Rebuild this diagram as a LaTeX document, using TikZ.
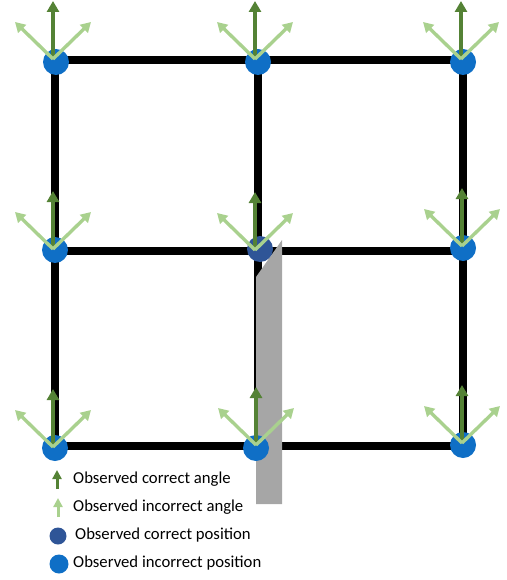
\documentclass[tikz,border=0pt]{standalone}
\usepackage{fontspec}
\setmainfont{Carlito}
\usetikzlibrary{arrows.meta}
\definecolor{dkgreen}{HTML}{548235}
\definecolor{ltgreen}{HTML}{A9D18E}
\definecolor{posblue}{HTML}{0F6FC6}
\definecolor{okblue}{HTML}{2F5597}
\definecolor{greyfill}{HTML}{A6A6A6}
\tikzset{
  gridline/.style={line width=8pt, line cap=rect, black},
  badpos/.style={circle, fill=posblue, minimum size=26pt, inner sep=0pt},
  goodpos/.style={circle, fill=okblue, minimum size=26pt, inner sep=0pt},
  goodang/.style={draw=dkgreen, line width=3.6pt, -{Triangle[width=12pt,length=11pt]}},
  badang/.style={draw=ltgreen, line width=3.4pt, -{Triangle[width=11pt,length=10pt]}},
  legtext/.style={anchor=west, inner sep=0pt, font=\fontsize{16.7}{20}\selectfont}
}
\begin{document}
\begin{tikzpicture}[x=1pt,y=-1pt]
\useasboundingbox (0,0) rectangle (506,580);
% grid intersections
\coordinate (g11) at (55,60);  \coordinate (g12) at (258,60);  \coordinate (g13) at (463,60);
\coordinate (g21) at (55,251); \coordinate (g22) at (258,251); \coordinate (g23) at (463,251);
\coordinate (g31) at (55,446); \coordinate (g32) at (258,446); \coordinate (g33) at (463,446);
\draw[gridline] (g11) -- (g13) (g21) -- (g23) (g31) -- (g33)
                (g11) -- (g31) (g12) -- (g32) (g13) -- (g33);
% gray shadow
\fill[greyfill] (256,277) -- (282,240) -- (282,504) -- (256,504) -- cycle;
% position markers
\node[badpos] (n11) at (56,62) {};
\node[badpos] (n12) at (258,62) {};
\node[badpos] (n13) at (463,62) {};
\node[badpos] (n21) at (55,250) {};
\node[goodpos] (n22) at (260,249) {};
\node[badpos] (n23) at (463,248) {};
\node[badpos] (n31) at (55,448) {};
\node[badpos] (n32) at (256,448) {};
\node[badpos] (n33) at (463,445) {};
% angle arrows
\foreach \n/\x/\y in {a11/53/59, a12/255/59, a13/461/59,
                      a21/53/249, a22/255/250, a23/462/246,
                      a31/53/447, a32/256/445, a33/462/443}{
  \coordinate (\n) at (\x,\y);
  \coordinate (\n u) at (\x,\y-58);
  \coordinate (\n l) at (\x-38,\y-37);
  \coordinate (\n r) at (\x+38,\y-37);
  \draw[goodang] (\n) -- (\n u);
  \draw[badang] (\n) -- (\n l);
  \draw[badang] (\n) -- (\n r);
}
% legend
\coordinate (k1s) at (57,489); \coordinate (k1e) at (57,470);
\draw[draw=dkgreen, line width=3pt, -{Triangle[width=9pt,length=9pt]}] (k1s) -- (k1e);
\node[legtext] (t1) at (73,479) {Observed correct angle};
\coordinate (k2s) at (58,517); \coordinate (k2e) at (58,498);
\draw[draw=ltgreen, line width=3pt, -{Triangle[width=9pt,length=9pt]}] (k2s) -- (k2e);
\node[legtext] (t2) at (73,507) {Observed incorrect angle};
\node[circle, fill=okblue, minimum size=17pt, inner sep=0pt] (k3) at (58,536) {};
\node[legtext] (t3) at (75,535) {Observed correct position};
\node[circle, fill=posblue, minimum size=19pt, inner sep=0pt] (k4) at (59,564) {};
\node[legtext] (t4) at (73,563) {Observed incorrect position};
\end{tikzpicture}
\end{document}
